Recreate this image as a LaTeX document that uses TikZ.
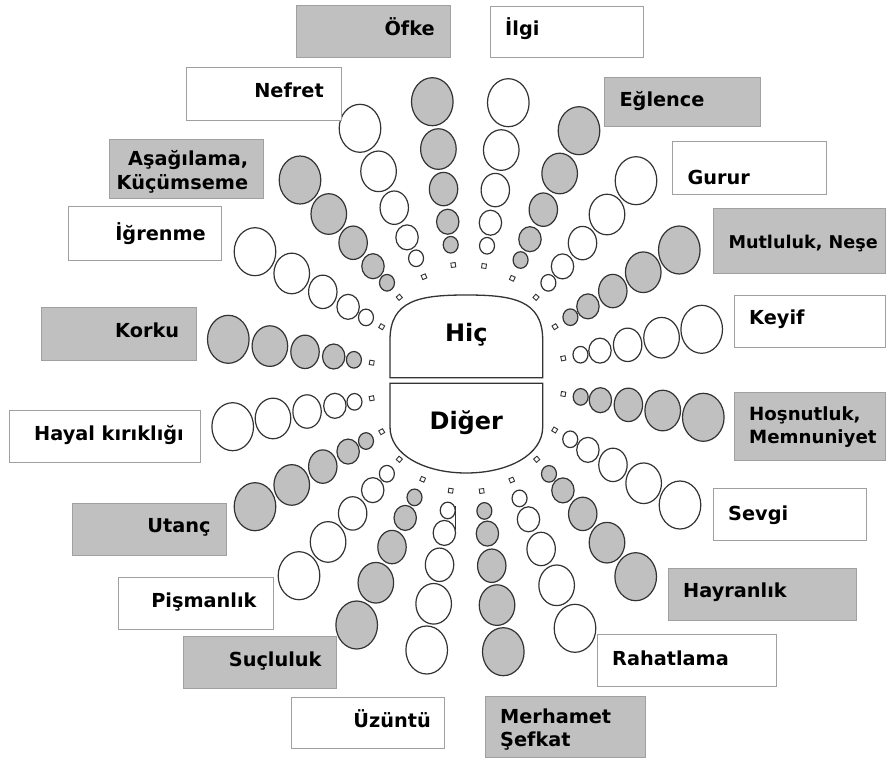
\documentclass[tikz,border=0pt]{standalone}
\usepackage{fontspec}
\setmainfont{DejaVu Sans}
\usetikzlibrary{calc}

\definecolor{wheelgray}{HTML}{C0C0C0}
\definecolor{rimline}{HTML}{333333}
\definecolor{boxline}{HTML}{A0A0A0}

% one spoke: small square at #1, five growing bubbles out to #2, filled with #3
\newcommand\spoke[3]{%
  \foreach \f/\rx/\ry in {0.124/7.5/8.3, 0.265/11.2/12.5, 0.465/14.2/16.7, 0.71/17.8/20.3, 1/20.8/24}
    \filldraw[bubble, fill=#3] ($(#1)!\f!(#2)$) ellipse [x radius=\rx pt, y radius=\ry pt];
  \filldraw[pip] let \p1=(#1), \p2=(#2), \n1={atan2(\y2-\y1,\x2-\x1)} in
    ($(#1)+(\n1+45:3.1pt)$) -- ($(#1)+(\n1+135:3.1pt)$) -- ($(#1)+(\n1+225:3.1pt)$) -- ($(#1)+(\n1+315:3.1pt)$) -- cycle;
}

\begin{document}
\begin{tikzpicture}[x=1pt, y=-1pt,
  bubble/.style={draw=rimline, line width=1.2pt},
  pip/.style={draw=rimline, fill=white, line width=0.9pt},
  hub/.style={draw=rimline, line width=1.3pt, fill=white},
  graybox/.style={draw=boxline, line width=1pt, fill=wheelgray},
  whitebox/.style={draw=boxline, line width=1pt, fill=white},
  lbl/.style={font=\bfseries\fontsize{19.3}{23.5}\selectfont, inner sep=0pt},
  hublbl/.style={font=\bfseries\fontsize{24}{28}\selectfont, inner sep=0pt}]
  \useasboundingbox (0,0) rectangle (886,760);

  % upper half
  \spoke{453.3,265}{432.3,101.7}{wheelgray}
  \spoke{424,276.7}{360,128.3}{white}
  \spoke{399.3,297.3}{300,180}{wheelgray}
  \spoke{381.7,326.7}{255,251.7}{white}
  \spoke{371.7,362.7}{228.3,339.3}{wheelgray}
  \spoke{484,266}{508.3,102.7}{white}
  \spoke{512.3,278.3}{579,130.7}{wheelgray}
  \spoke{536,297.3}{636,180.7}{white}
  \spoke{555,326.7}{679.3,250}{wheelgray}
  \spoke{563.3,358.3}{701.7,329.3}{white}
  % lower half
  \spoke{371.7,398.3}{232.7,426.7}{white}
  \spoke{381.7,431.7}{255,506.7}{wheelgray}
  \spoke{399.3,459.3}{299,575.7}{white}
  \spoke{422.7,479.3}{356.7,625}{wheelgray}
  \spoke{450.7,490.7}{426.7,650}{white}
  \spoke{481.7,491}{503.3,651.7}{wheelgray}
  \spoke{511.7,480}{575,628.3}{white}
  \spoke{536.7,459.3}{635.7,576.7}{wheelgray}
  \spoke{554.7,430}{680,505}{white}
  \spoke{563.3,394}{703.3,417.3}{wheelgray}
  \draw[rimline, line width=0.8pt] (455,506) -- (455,530);

  % centre
  \filldraw[hub] (390,377.7) -- (390,340) .. controls (390,300) and (420,295) .. (466.3,295)
    .. controls (512.7,295) and (542.7,300) .. (542.7,340) -- (542.7,377.7) -- cycle;
  \filldraw[hub] (390,383.3) -- (390,427) .. controls (390,455) and (425,473) .. (466.3,473)
    .. controls (507.7,473) and (542.7,455) .. (542.7,427) -- (542.7,383.3) -- cycle;
  \node[hublbl, anchor=base] (hic) at (466.3,341) {Hiç};
  \node[hublbl, anchor=base] (diger) at (466.3,429.3) {Diğer};

  % labels, left side
  \draw[graybox] (296.7,6) rectangle (450,57.3);
  \node[lbl, anchor=base east] (ofke) at (435,36) {Öfke};
  \draw[whitebox] (186.7,67.3) rectangle (341.7,120.7);
  \node[lbl, anchor=base east] (nefret) at (324,97.7) {Nefret};
  \draw[graybox] (109,139.3) rectangle (263.3,198.3);
  \node[lbl, anchor=base east, align=right] (asagilama) at (248.3,189) {Aşağılama,\\Küçümseme};
  \draw[whitebox] (68.3,206.7) rectangle (221.7,260);
  \node[lbl, anchor=base east] (igrenme) at (206,240.7) {İğrenme};
  \draw[graybox] (41.7,307.3) rectangle (196.7,360.7);
  \node[lbl, anchor=base east] (korku) at (179.3,337.3) {Korku};
  \draw[whitebox] (9.3,410.7) rectangle (200,462);
  \node[lbl, anchor=base east] (hayal) at (184,440) {Hayal kırıklığı};
  \draw[graybox] (72.7,503.3) rectangle (226.7,555);
  \node[lbl, anchor=base east] (utanc) at (210.7,532.3) {Utanç};
  \draw[whitebox] (118.3,577.3) rectangle (273.3,629);
  \node[lbl, anchor=base east] (pismanlik) at (256.7,607.3) {Pişmanlık};
  \draw[graybox] (183.3,636.7) rectangle (336.7,688.3);
  \node[lbl, anchor=base east] (sucluluk) at (321.7,666) {Suçluluk};
  \draw[whitebox] (291,697) rectangle (444,748);
  \node[lbl, anchor=base east] (uzuntu) at (431,727) {Üzüntü};

  % labels, right side
  \draw[whitebox] (490.7,7) rectangle (643,58);
  \node[lbl, anchor=base west] (ilgi) at (505,36) {İlgi};
  \draw[graybox] (604.3,77.3) rectangle (760,126.7);
  \node[lbl, anchor=base west] (eglence) at (619.3,106.7) {Eğlence};
  \draw[whitebox] (672.3,141.7) rectangle (826,194.3);
  \node[lbl, anchor=base west] (gurur) at (687.3,184) {Gurur};
  \draw[graybox] (713.3,208.3) rectangle (885,273.3);
  \node[lbl, anchor=base west, font=\bfseries\fontsize{17.6}{21}\selectfont] (mutluluk) at (728.3,248.7) {Mutluluk, Neşe};
  \draw[whitebox] (734.3,295) rectangle (885,347.3);
  \node[lbl, anchor=base west] (keyif) at (749,324.3) {Keyif};
  \draw[graybox] (734.3,392.7) rectangle (885,460);
  \node[lbl, anchor=base west, align=left, font=\bfseries\fontsize{18.2}{23.5}\selectfont] (hosnutluk) at (749,443.5) {Hoşnutluk,\\Memnuniyet};
  \draw[whitebox] (713,488) rectangle (866,540);
  \node[lbl, anchor=base west] (sevgi) at (728,520) {Sevgi};
  \draw[graybox] (668,568) rectangle (856,620);
  \node[lbl, anchor=base west] (hayranlik) at (683,597) {Hayranlık};
  \draw[whitebox] (597.3,634) rectangle (776,686);
  \node[lbl, anchor=base west] (rahatlama) at (612,665) {Rahatlama};
  \draw[graybox] (485,696.7) rectangle (645,757.3);
  \node[lbl, anchor=base west, align=left] (merhamet) at (500,746.7) {Merhamet\\Şefkat};
\end{tikzpicture}
\end{document}
